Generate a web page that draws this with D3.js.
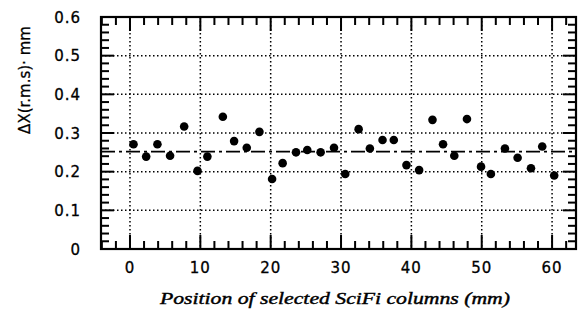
<!DOCTYPE html>
<html>
<head>
<meta charset="utf-8">
<script src="https://cdn.jsdelivr.net/npm/d3@7"></script>
<style>
  body { margin: 0; background: #fff; }
  svg { display: block; }
</style>
</head>
<body>
<script>
// column positions (mm) and measured resolution
var positions = [0.5, 2.3, 3.9, 5.7, 7.7, 9.6, 11.0, 13.2, 14.8, 16.6, 18.4, 20.2,
                 21.7, 23.6, 25.2, 27.1, 29.0, 30.6, 32.5, 34.1, 35.9, 37.5, 39.3,
                 41.1, 43.0, 44.5, 46.1, 47.9, 49.9, 51.3, 53.3, 55.1, 57.0, 58.6, 60.3];
var rmsValues = [0.271, 0.239, 0.271, 0.241, 0.317, 0.202, 0.239, 0.342, 0.279, 0.262,
                 0.303, 0.181, 0.222, 0.250, 0.256, 0.250, 0.262, 0.194, 0.310, 0.260,
                 0.282, 0.282, 0.217, 0.204, 0.334, 0.271, 0.241, 0.336, 0.213, 0.194,
                 0.260, 0.236, 0.209, 0.265, 0.190];
var meanValue = 0.252;
var xTicks = [0, 10, 20, 30, 40, 50, 60];
var yTicks = [0, 0.1, 0.2, 0.3, 0.4, 0.5, 0.6];
var xMinor = [-4, -2, 2, 4, 6, 8, 12, 14, 16, 18, 22, 24, 26, 28, 32, 34, 36, 38,
              42, 44, 46, 48, 52, 54, 56, 58, 62];
var yMinor = [0.02, 0.04, 0.06, 0.08, 0.12, 0.14, 0.16, 0.18, 0.22, 0.24, 0.26, 0.28,
              0.32, 0.34, 0.36, 0.38, 0.42, 0.44, 0.46, 0.48, 0.52, 0.54, 0.56, 0.58];

var W = 580, H = 311;
var plot = {left: 101, right: 576, top: 17, bottom: 249};

var x = d3.scaleLinear().domain([-4.12, 63.4]).range([plot.left, plot.right]);
var y = d3.scaleLinear().domain([0, 0.6]).range([plot.bottom, plot.top]);

var svg = d3.select("body").append("svg")
    .attr("width", W)
    .attr("height", H);

// dotted grid
svg.append("g").selectAll("line")
    .data(xTicks)
    .enter().append("line")
    .attr("x1", function(d) { return x(d); })
    .attr("x2", function(d) { return x(d); })
    .attr("y1", plot.top)
    .attr("y2", plot.bottom)
    .attr("stroke", "#000")
    .attr("stroke-width", 1.5)
    .attr("stroke-dasharray", "1.5,2.5");

svg.append("g").selectAll("line")
    .data(yTicks.filter(function(d) { return d > 0 && d < 0.6; }))
    .enter().append("line")
    .attr("x1", plot.left)
    .attr("x2", plot.right)
    .attr("y1", function(d) { return y(d); })
    .attr("y2", function(d) { return y(d); })
    .attr("stroke", "#000")
    .attr("stroke-width", 1.5)
    .attr("stroke-dasharray", "1.5,2.5");

// frame
svg.append("rect")
    .attr("x", plot.left)
    .attr("y", plot.top)
    .attr("width", plot.right - plot.left)
    .attr("height", plot.bottom - plot.top)
    .attr("fill", "none")
    .attr("stroke", "#000")
    .attr("stroke-width", 2.2);

// inward ticks on all four sides
function xTickMarks(vals, len) {
    var g = svg.append("g");
    g.selectAll("rect.b")
        .data(vals)
        .enter().append("rect")
        .attr("x", function(d) { return x(d) - 1; })
        .attr("y", plot.bottom - len)
        .attr("width", 2)
        .attr("height", len)
        .attr("fill", "#000");
    g.selectAll("rect.t")
        .data(vals)
        .enter().append("rect")
        .attr("x", function(d) { return x(d) - 1; })
        .attr("y", plot.top)
        .attr("width", 2)
        .attr("height", len)
        .attr("fill", "#000");
}
function yTickMarks(vals, len) {
    var g = svg.append("g");
    g.selectAll("rect.l")
        .data(vals)
        .enter().append("rect")
        .attr("x", plot.left)
        .attr("y", function(d) { return y(d) - 1; })
        .attr("width", len)
        .attr("height", 2)
        .attr("fill", "#000");
    g.selectAll("rect.r")
        .data(vals)
        .enter().append("rect")
        .attr("x", plot.right - len)
        .attr("y", function(d) { return y(d) - 1; })
        .attr("width", len)
        .attr("height", 2)
        .attr("fill", "#000");
}
xTickMarks(xMinor, 8);
xTickMarks(xTicks, 14);
yTickMarks(yMinor, 8);
yTickMarks(yTicks, 13);

// tick labels
svg.append("g").selectAll("text")
    .data(yTicks)
    .enter().append("text")
    .attr("x", 81)
    .attr("y", function(d) { return y(d) + 5.5; })
    .attr("text-anchor", "end")
    .style("font-family", "DejaVu Sans")
    .style("font-size", "15px")
    .style("letter-spacing", "1px")
    .style("stroke", "#000")
    .style("stroke-width", 0.3)
    .text(function(d) { return d === 0 ? "0" : d3.format(".1f")(d); });

svg.append("g").selectAll("text")
    .data(xTicks)
    .enter().append("text")
    .attr("x", function(d) { return x(d); })
    .attr("y", 273)
    .attr("text-anchor", "middle")
    .style("font-family", "DejaVu Sans")
    .style("font-size", "15px")
    .style("letter-spacing", "1px")
    .style("stroke", "#000")
    .style("stroke-width", 0.3)
    .text(function(d) { return d; });

// axis titles
svg.append("text")
    .attr("x", 160)
    .attr("y", 304)
    .attr("textLength", 350)
    .attr("lengthAdjust", "spacingAndGlyphs")
    .style("font-family", "Liberation Serif")
    .style("font-style", "italic")
    .style("font-size", "16px")
    .style("stroke", "#000")
    .style("stroke-width", 0.4)
    .text("Position of selected SciFi columns (mm)");

svg.append("text")
    .attr("transform", "translate(30,80) rotate(-90)")
    .attr("text-anchor", "middle")
    .style("font-family", "DejaVu Sans")
    .style("font-size", "15px")
    .style("stroke", "#000")
    .style("stroke-width", 0.3)
    .text("\u0394X(r.m.s)\u00b7 mm");

// mean line (dash-dot)
svg.append("line")
    .attr("x1", plot.left)
    .attr("x2", plot.right)
    .attr("y1", y(meanValue))
    .attr("y2", y(meanValue))
    .attr("stroke", "#000")
    .attr("stroke-width", 1.8)
    .attr("stroke-dasharray", "14,4,3,4");

// points
svg.append("g").selectAll("circle")
    .data(positions)
    .enter().append("circle")
    .attr("cx", function(d) { return x(d); })
    .attr("cy", function(d, i) { return y(rmsValues[i]); })
    .attr("r", 4.3)
    .attr("fill", "#000");
</script>
</body>
</html>
